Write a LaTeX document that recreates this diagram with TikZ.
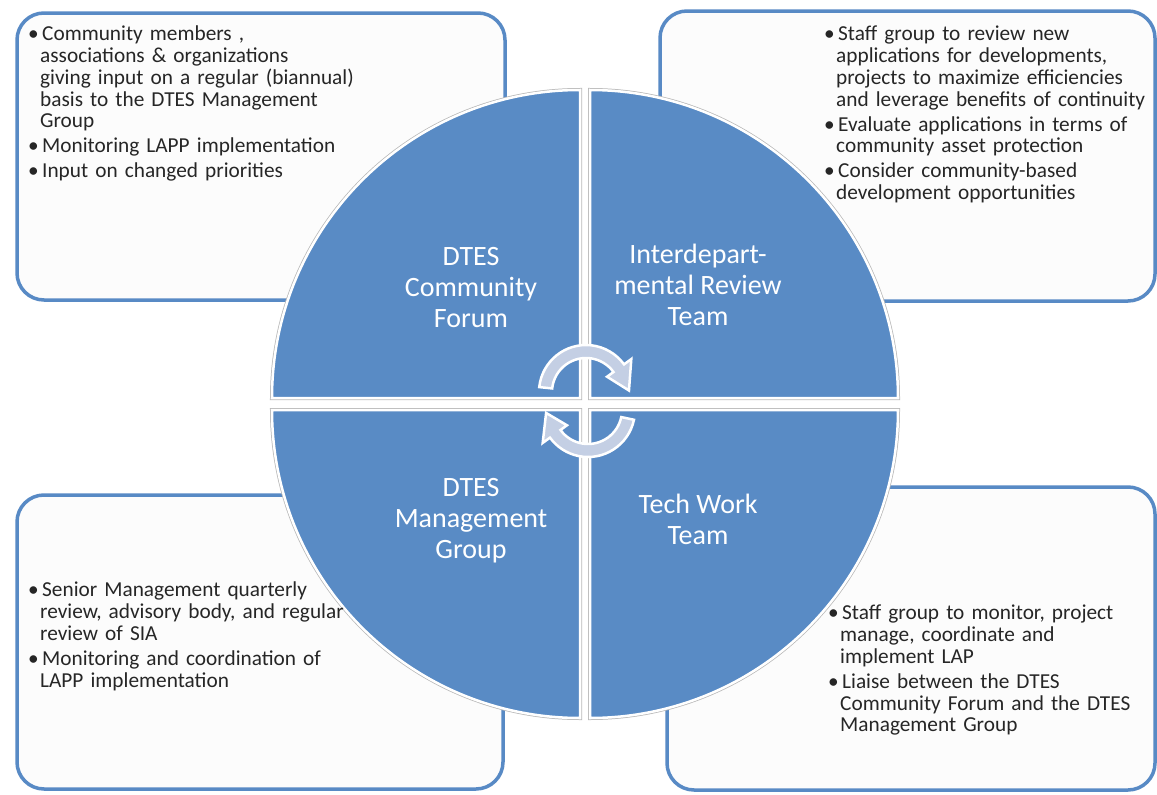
\documentclass[tikz,border=0pt]{standalone}
\usepackage{fontspec}
\setmainfont{Carlito}
\usetikzlibrary{calc}
\definecolor{qblue}{RGB}{89,139,197}
\definecolor{bblue}{RGB}{88,138,197}
\definecolor{arrowfill}{RGB}{196,207,228}
\definecolor{txt}{RGB}{38,38,38}
\newcommand{\bul}{\par\hangindent=12pt\hangafter=1\noindent\makebox[14pt][l]{\textbullet}}
\newcommand{\bulb}{\par\vspace{3.3pt}\bul}
\begin{document}
\begin{tikzpicture}[x=1pt,y=-1pt,
 infobox/.style={draw=bblue, line width=3.5pt, fill=white!99!black, rounded corners=27pt},
 quad/.style={fill=qblue, draw=white, line width=2.5pt},
 quadshadow/.style={draw=black!28, line width=4pt},
 bultext/.style={anchor=north west, inner sep=0pt, text width=420pt, text=txt, font=\fontsize{21.3}{21.7}\selectfont},
 title/.style={text=white, align=center, font=\fontsize{28}{31}\selectfont, inner sep=0pt},
 cyc/.style={fill=arrowfill, draw=white, line width=2.5pt, line join=miter}
]
\useasboundingbox (0,0) rectangle (1157,795);
\fill[white] (0,0) rectangle (1157,795);

% info boxes
\draw[infobox] (17,13) rectangle (505,300);
\draw[infobox] (660,11) rectangle (1155,301);
\draw[infobox] (17,495) rectangle (503,789);
\draw[infobox] (667,487) rectangle (1155,790);

% quadrants
\foreach \s in {quadshadow,quad}{
 \draw[\s] (580,398) -- ++(-308,0) arc[start angle=180,end angle=270,radius=308] -- cycle;
 \draw[\s] (590,398) -- ++(0,-308) arc[start angle=270,end angle=360,radius=308] -- cycle;
 \draw[\s] (590,410) -- ++(308,0) arc[start angle=0,end angle=90,radius=308] -- cycle;
 \draw[\s] (580,410) -- ++(0,308) arc[start angle=90,end angle=180,radius=308] -- cycle;
}

% titles
\node[title] (tcf) at (471,288) {DTES\\Community\\Forum};
\node[title] (tir) at (698,285) {Interdepart-\\mental Review\\Team};
\node[title] (tmg) at (471,521) {DTES\\Management\\Group};
\node[title] (ttw) at (698,519) {Tech Work\\Team};

% cycle arrows
\coordinate (c1) at (586,392);
\coordinate (c2) at (588,410);
\draw[cyc] ($(c1)+(-174:47)$) arc[start angle=-174,end angle=-36,radius=47]
  -- ($(c1)+(-36:56)$) -- ($(c1)+(-2:43)$) -- ($(c1)+(-36:26)$) -- ($(c1)+(-36:34)$)
  arc[start angle=-36,end angle=-174,radius=34] -- cycle;
\draw[cyc] ($(c2)+(12:47)$) arc[start angle=12,end angle=144,radius=47]
  -- ($(c2)+(144:56)$) -- ($(c2)+(176:42)$) -- ($(c2)+(144:26)$) -- ($(c2)+(144:34)$)
  arc[start angle=144,end angle=12,radius=34] -- cycle;

% bullet texts
\node[bultext] (bcf) at (28,19) {\bul Community members ,\newline associations \& organizations\newline giving input on a regular (biannual)\newline basis to the DTES Management\newline Group
\bulb Monitoring LAPP implementation
\bulb Input on changed priorities\par};
\node[bultext] (bir) at (824,19) {\bul Staff group to review new\newline applications for developments,\newline projects to maximize efficiencies\newline and leverage benefits of continuity
\bulb Evaluate applications in terms of\newline community asset protection
\bulb Consider community-based\newline development opportunities\par};
\node[bultext] (bmg) at (28,575) {\bul Senior Management quarterly\newline review, advisory body, and regular\newline review of SIA
\bulb Monitoring and coordination of\newline LAPP implementation\par};
\node[bultext] (btw) at (828,598) {\bul Staff group to monitor, project\newline manage, coordinate and\newline implement LAP
\bulb Liaise between the DTES\newline Community Forum and the DTES\newline Management Group\par};
\end{tikzpicture}
\end{document}
